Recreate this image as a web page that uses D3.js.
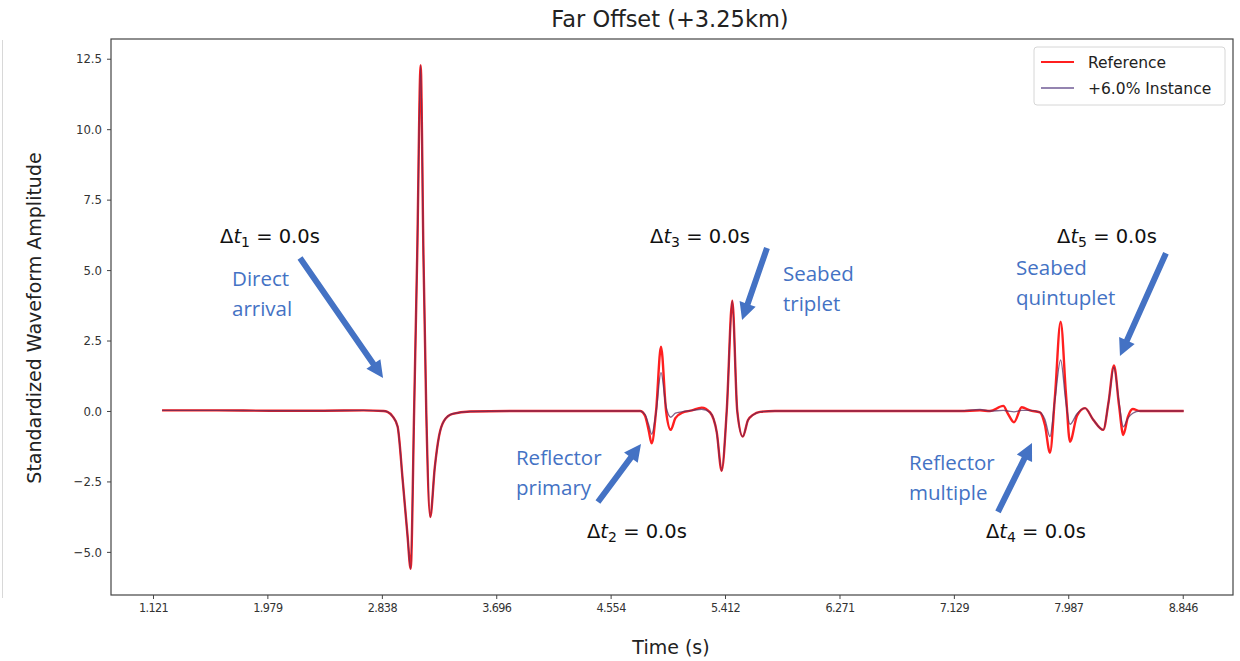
<!DOCTYPE html>
<html><head><meta charset="utf-8">
<script src="https://cdn.jsdelivr.net/npm/d3@7"></script>
<style>
html,body{margin:0;padding:0;background:#fff;}
svg{display:block;}
</style></head>
<body>
<svg id="chart" width="1240" height="661"></svg>
<script>
// ---------- DATA ----------
const titleText = "Far Offset (+3.25km)";
const xLabel = "Time (s)";
const yLabel = "Standardized Waveform Amplitude";
const xTickValues = [1.121, 1.979, 2.838, 3.696, 4.554, 5.412, 6.271, 7.129, 7.987, 8.846];
const yTickValues = [-5.0, -2.5, 0.0, 2.5, 5.0, 7.5, 10.0, 12.5];
const seriesNames = ["Reference", "+6.0% Instance"];

const times = [1.189, 1.6, 2.0, 2.4, 2.7, 2.85, 2.88, 2.92, 2.956, 2.995, 3.030, 3.054, 3.080, 3.103, 3.129, 3.150, 3.171, 3.201, 3.235, 3.267, 3.304, 3.369, 3.5, 3.8, 4.2, 4.6,
  4.775, 4.812, 4.840, 4.862, 4.895, 4.932, 4.970, 5.005, 5.040, 5.087, 5.165, 5.237, 5.300, 5.350, 5.387, 5.425, 5.467, 5.504, 5.545, 5.585, 5.622, 5.675, 5.787,
  6.2, 6.6, 7.0, 7.175, 7.325, 7.400, 7.500, 7.535, 7.580, 7.638, 7.700, 7.775, 7.812, 7.850, 7.887, 7.930, 7.970, 8.000, 8.053, 8.113, 8.173, 8.250, 8.289, 8.330, 8.368, 8.400, 8.435, 8.471, 8.525, 8.7, 8.853];

const reference = [0.02, 0.02, 0.01, 0.01, 0.02, 0.0, -0.03, -0.2, -0.55, -2.5, -4.4, -5.6, 0.0, 5.5, 12.27, 5.5, 0.0, -3.76, -2.0, -0.89, -0.35, -0.1, -0.02, 0.0, 0.0, 0.0,
  0.0, -0.17, -0.7, -1.15, 0.0, 2.28, 0.0, -0.67, -0.25, -0.07, 0.02, 0.12, -0.05, -0.75, -2.12, 0.0, 3.91, 0.0, -0.91, -0.32, -0.14, -0.03, 0.0,
  0.0, 0.0, 0.0, 0.0, 0.02, 0.0, 0.18, -0.1, -0.40, 0.13, 0.02, -0.05, -0.5, -1.48, 0.5, 3.17, 0.6, -1.09, -0.17, 0.1, -0.3, -0.67, 0.3, 1.62, 0.2, -0.85, -0.2, 0.07, 0.0, 0.0, 0.0];

const instance = [0.02, 0.02, 0.01, 0.01, 0.02, 0.0, -0.03, -0.2, -0.55, -2.5, -4.4, -5.6, 0.0, 5.5, 12.27, 5.5, 0.0, -3.76, -2.0, -0.89, -0.35, -0.1, -0.02, 0.0, 0.0, 0.0,
  0.0, -0.12, -0.5, -0.82, -0.05, 1.36, 0.15, -0.22, -0.08, -0.03, 0.02, 0.06, -0.05, -0.75, -2.12, 0.0, 3.91, 0.0, -0.91, -0.32, -0.14, -0.03, 0.0,
  0.0, 0.0, 0.0, 0.0, 0.05, 0.0, 0.02, 0.0, -0.03, 0.02, 0.02, -0.05, -0.3, -0.91, 0.4, 1.81, 0.3, -0.47, -0.1, 0.1, -0.3, -0.67, 0.3, 1.55, 0.3, -0.56, -0.25, -0.08, 0.0, 0.0, 0.0];

// annotation content (data coordinates)
const deltaLabels = [
  {sub: "1", t: 1.624, v: 5.96},
  {sub: "2", t: 4.377, v: -4.5},
  {sub: "3", t: 4.850, v: 5.96},
  {sub: "4", t: 7.370, v: -4.5},
  {sub: "5", t: 7.903, v: 5.96}
];
const noteLabels = [
  {lines: ["Direct", "arrival"], t: 1.714, v: 4.43},
  {lines: ["Seabed", "triplet"], t: 5.847, v: 4.61},
  {lines: ["Reflector", "primary"], t: 3.844, v: -1.92},
  {lines: ["Reflector", "multiple"], t: 6.793, v: -2.09},
  {lines: ["Seabed", "quintuplet"], t: 7.595, v: 4.82}
];
const arrows = [
  {t0: 2.224, v0: 5.43, t1: 2.847, v1: 1.17},
  {t0: 5.727, v0: 5.78, t1: 5.540, v1: 3.23},
  {t0: 4.459, v0: -3.23, t1: 4.782, v1: -1.17},
  {t0: 7.460, v0: -3.58, t1: 7.715, v1: -1.14},
  {t0: 8.720, v0: 5.60, t1: 8.375, v1: 1.95}
];

// ---------- LAYOUT ----------
const plot = {left: 111, right: 1233, top: 39, bottom: 595};
const svg = d3.select("#chart");

const x = d3.scaleLinear().domain([0.806, 9.223]).range([plot.left, plot.right]);
const y = d3.scaleLinear().domain([-6.53, 13.2]).range([plot.bottom, plot.top]);

// left edge faint line
svg.append("line").attr("x1", 2.5).attr("x2", 2.5).attr("y1", 40).attr("y2", 598)
  .attr("stroke", "#d8d8d8").attr("stroke-width", 1);

// title
svg.append("text").attr("x", 670).attr("y", 27)
  .attr("text-anchor", "middle").attr("font-family", "DejaVu Sans").attr("font-size", 22.5)
  .attr("fill", "#222").text(titleText);

// axes
const xAxis = d3.axisBottom(x).tickValues(xTickValues).tickFormat(d3.format(".3f")).tickSize(4).tickPadding(4);
const gx = svg.append("g").attr("transform", `translate(0,${plot.bottom})`).call(xAxis);
gx.select(".domain").remove();
gx.selectAll("text").attr("font-family", "DejaVu Sans Condensed, DejaVu Sans").attr("font-size", 12.5).attr("fill", "#333").attr("letter-spacing", "-0.6px");
gx.selectAll("line").attr("stroke", "#444");

const yAxis = d3.axisLeft(y).tickValues(yTickValues).tickFormat(d => d3.format(".1f")(d).replace("-", "\u2212")).tickSize(4).tickPadding(5);
const gy = svg.append("g").attr("transform", `translate(${plot.left},0)`).call(yAxis);
gy.select(".domain").remove();
gy.selectAll("text").attr("font-family", "DejaVu Sans Condensed, DejaVu Sans").attr("font-size", 13).attr("fill", "#333");
gy.selectAll("line").attr("stroke", "#444");

svg.append("text").attr("x", 671).attr("y", 654)
  .attr("text-anchor", "middle").attr("font-family", "DejaVu Sans").attr("font-size", 19)
  .attr("fill", "#222").text(xLabel);
svg.append("text").attr("transform", `translate(41,${318}) rotate(-90)`)
  .attr("text-anchor", "middle").attr("font-family", "DejaVu Sans").attr("font-size", 19)
  .attr("fill", "#222").text(yLabel);

// clip
svg.append("clipPath").attr("id", "clip").append("rect")
  .attr("x", plot.left).attr("y", plot.top).attr("width", plot.right - plot.left).attr("height", plot.bottom - plot.top);

const line = d3.line().x(d => x(d[0])).y(d => y(d[1])).curve(d3.curveMonotoneX);
const refData = times.map((t, i) => [t, reference[i]]);
const instData = times.map((t, i) => [t, instance[i]]);

const gLines = svg.append("g").attr("clip-path", "url(#clip)");
gLines.append("path").datum(refData).attr("d", line).attr("fill", "none")
  .attr("stroke", "#ff1f1f").attr("stroke-width", 2.4).attr("stroke-linejoin", "round");
gLines.append("path").datum(instData).attr("d", line).attr("fill", "none")
  .attr("stroke", "#5a2f62").attr("stroke-width", 1.4).attr("stroke-opacity", 0.75).attr("stroke-linejoin", "round");

// frame
svg.append("rect").attr("x", plot.left).attr("y", plot.top)
  .attr("width", plot.right - plot.left).attr("height", plot.bottom - plot.top)
  .attr("fill", "none").attr("stroke", "#444").attr("stroke-width", 1.2);

// legend
const lg = svg.append("g").attr("transform", `translate(${plot.right - 199},${plot.top + 8})`);
lg.append("rect").attr("width", 191).attr("height", 58).attr("rx", 3)
  .attr("fill", "#fff").attr("stroke", "#d6d6d6").attr("stroke-width", 1);
const legColors = ["#ff1f1f", "#9484b0"];
seriesNames.forEach((name, i) => {
  const yy = 15 + i * 26;
  lg.append("line").attr("x1", 7).attr("x2", 40).attr("y1", yy).attr("y2", yy)
    .attr("stroke", legColors[i]).attr("stroke-width", 1.8);
  lg.append("text").attr("x", 54).attr("y", yy + 6).attr("font-family", "DejaVu Sans")
    .attr("font-size", 15.5).attr("fill", "#222").text(name);
});

// annotations
const blue = "#4472c4";
arrows.forEach(a => {
  const x0 = x(a.t0), y0 = y(a.v0), x1 = x(a.t1), y1 = y(a.v1);
  const ang = Math.atan2(y1 - y0, x1 - x0);
  const headLen = 17, headW = 8.5, sw = 3;
  const bx = x1 - headLen * Math.cos(ang), by = y1 - headLen * Math.sin(ang);
  const px = -Math.sin(ang), py = Math.cos(ang);
  const pts = [
    [x0 + px * sw, y0 + py * sw],
    [bx + px * sw, by + py * sw],
    [bx + px * headW, by + py * headW],
    [x1, y1],
    [bx - px * headW, by - py * headW],
    [bx - px * sw, by - py * sw],
    [x0 - px * sw, y0 - py * sw]
  ];
  svg.append("path").attr("d", "M" + pts.map(p => p.join(",")).join("L") + "Z").attr("fill", blue);
});

noteLabels.forEach(n => {
  const t = svg.append("text").attr("font-family", "Open Sans").attr("font-size", 20.5).attr("fill", blue);
  n.lines.forEach((ln, i) => {
    t.append("tspan").attr("x", x(n.t)).attr("y", y(n.v) + i * 30).text(ln);
  });
});

deltaLabels.forEach(d => {
  const t = svg.append("text").attr("x", x(d.t)).attr("y", y(d.v))
    .attr("font-family", "DejaVu Sans").attr("font-size", 19.5).attr("fill", "#111");
  t.append("tspan").text("\u0394");
  t.append("tspan").attr("font-style", "italic").text("t");
  t.append("tspan").attr("font-size", 14).attr("dy", 4).text(d.sub);
  t.append("tspan").attr("dy", -4).text(" = 0.0s");
});
</script>
</body></html>
